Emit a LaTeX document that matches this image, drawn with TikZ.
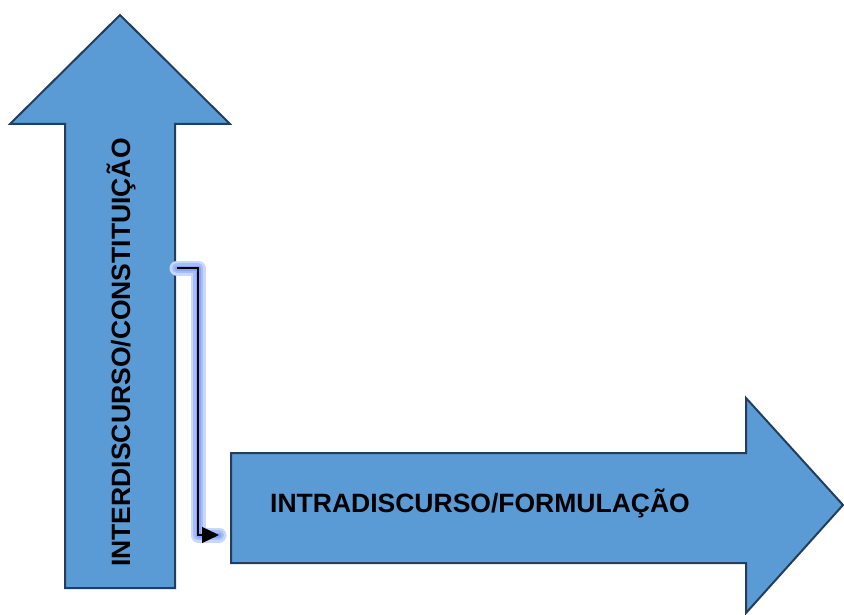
\documentclass[tikz,border=0pt]{standalone}
\usepackage{fontspec}
\setmainfont{Liberation Sans}
\usetikzlibrary{arrows.meta}
\definecolor{arrowfill}{HTML}{5B9BD5}
\definecolor{arrowline}{HTML}{223E5C}
\definecolor{glowouter}{RGB}{200,215,252}
\definecolor{glowmid}{RGB}{165,190,250}
\definecolor{glowinner}{RGB}{135,165,250}
\tikzset{
  bigarrow/.style={fill=arrowfill, draw=arrowline, line width=2pt, line join=miter},
  label/.style={font=\fontsize{26.5}{26.5}\selectfont\bfseries, text=black, inner sep=0pt},
  glow/.style={line cap=round, line join=round},
  link/.style={draw=black, line width=1.3pt, -{Triangle[length=17pt,width=16pt]}}
}
\begin{document}
\begin{tikzpicture}[x=1pt,y=-1pt]
\useasboundingbox (0,0) rectangle (844,615);
% vertical arrow
\draw[bigarrow] (65,588) -- (65,124) -- (10,124) -- (120,15) -- (230,124) -- (175,124) -- (175,588) -- cycle;
% horizontal arrow
\draw[bigarrow] (231,453) -- (746,453) -- (746,398) -- (843,505) -- (746,613) -- (746,563) -- (231,563) -- cycle;
\node[label, rotate=90, anchor=base] (inter) at (130,352.5) {INTERDISCURSO/CONSTITUIÇÃO};
\node[label, anchor=base] (intra) at (480,512) {INTRADISCURSO/FORMULAÇÃO};
\coordinate (start) at (177,268);
\coordinate (bend1) at (198,268);
\coordinate (bend2) at (198,535);
\coordinate (finish) at (219,535);
\draw[glow, draw=glowouter, line width=15pt] (start) -- (bend1) -- (bend2) -- (finish);
\draw[glow, draw=glowmid, line width=10pt] (start) -- (bend1) -- (bend2) -- (finish);
\draw[glow, draw=glowinner, line width=5pt] (start) -- (bend1) -- (bend2) -- (finish);
\draw[link] (start) -- (bend1) -- (bend2) -- (finish);
\end{tikzpicture}
\end{document}
